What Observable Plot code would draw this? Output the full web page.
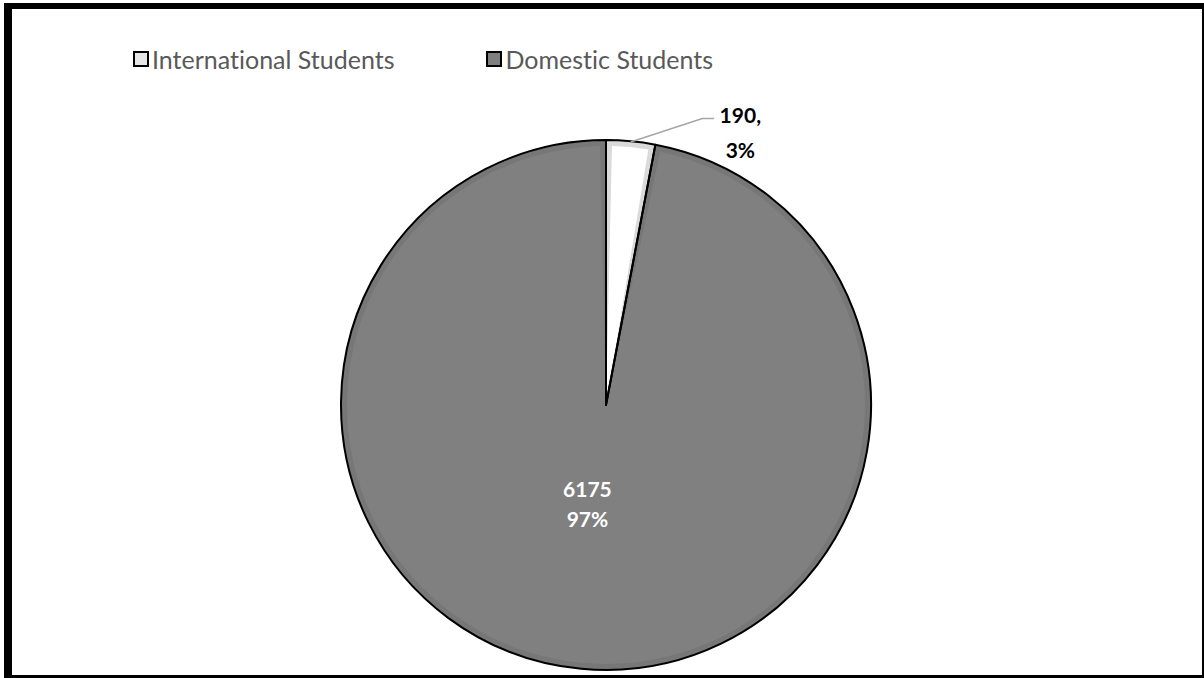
<!DOCTYPE html>
<html>
<head>
<meta charset="utf-8">
<script src="https://cdn.jsdelivr.net/npm/d3@7"></script>
<script src="https://cdn.jsdelivr.net/npm/@observablehq/plot@0.6"></script>
<style>
  html, body { margin: 0; padding: 0; background: #fff; }
  #wrap { position: relative; width: 1204px; height: 678px; overflow: hidden; font-family: Lato, "Open Sans", sans-serif; font-variant-ligatures: none; }
  #frame { position: absolute; left: 4px; top: 3px; width: 1200px; height: 675px; box-sizing: border-box;
           border-style: solid; border-color: #000; border-width: 6px 2px 3px 8px; pointer-events: none; }
  #legend { position: absolute; left: 133px; top: 44px; height: 30px; display: flex; align-items: center; font-size: 25px; line-height: 30px; color: #595959; }
  .item { display: flex; align-items: center; }
  .sw { width: 12px; height: 12px; border: 2px solid #000; margin-right: 3px; }
  svg text { font-variant-ligatures: none; }
</style>
</head>
<body>
<div id="wrap">
  <div id="chart"></div>
  <div id="legend"></div>
  <div id="frame"></div>
</div>
<script>
// ---- data ----
const categories = ["International Students", "Domestic Students"];
const counts = [190, 6175];
const sliceFills = ["#ffffff", "#808080"];
const ringFills = ["#dadada", "#777777"];
const swatchFills = ["#e6e6e6", "#7f7f7f"];

const total = d3.sum(counts);
const rows = categories.map((c, i) => ({category: c, value: counts[i], fill: sliceFills[i], ring: ringFills[i]}));
const arcs = d3.pie().sort(null).value(d => d.value)(rows);

// label geometry (unit-circle coordinates)
const intlArc = arcs[0];
const intlMid = (intlArc.startAngle + intlArc.endAngle) / 2;
const leader = [
  {x: Math.sin(intlMid), y: Math.cos(intlMid)},
  {x: 0.362, y: 1.083},
  {x: 0.404, y: 1.083}
];
const pct = v => Math.round(v / total * 100) + "%";
const labels = [
  {x: 0.505, y: 1.043, text: `${counts[0]},\n${pct(counts[0])}`, fill: "#000"},
  {x: -0.072, y: -0.366, text: `${counts[1]}\n${pct(counts[1])}`, fill: "#fff"}
];

// custom pie render mark using Plot's scales
function pieMark(index, scales) {
  const cx = scales.x(0), cy = scales.y(0), r = scales.x(1) - scales.x(0);
  const g = d3.create("svg:g").attr("transform", `translate(${cx},${cy})`);
  const outer = d3.arc().innerRadius(0).outerRadius(r);
  const ri = r - 6;
  const inner = d3.arc().innerRadius(0).outerRadius(ri).padAngle(12 / ri);
  g.selectAll("path.ring").data(arcs).join("path")
    .attr("d", outer).attr("fill", d => d.data.ring);
  g.selectAll("path.in").data(arcs).join("path")
    .attr("d", inner).attr("fill", d => d.data.fill);
  g.selectAll("path.edge").data(arcs).join("path")
    .attr("d", outer).attr("fill", "none").attr("stroke", "#000").attr("stroke-width", 2).attr("stroke-linejoin", "round");
  return g.node();
}

const R = 265, CX = 606, CY = 405, W = 1204, H = 678;
const chart = Plot.plot({
  width: W, height: H, margin: 0,
  style: {fontFamily: "Lato, 'Open Sans', sans-serif", background: "transparent"},
  x: {domain: [-CX / R, (W - CX) / R], axis: null},
  y: {domain: [-(H - CY) / R, CY / R], axis: null},
  marks: [
    pieMark,
    Plot.line(leader, {x: "x", y: "y", stroke: "#a6a6a6", strokeWidth: 1.5}),
    Plot.text(labels.slice(0, 1), {x: "x", y: "y", text: "text", fill: "fill", fontSize: 21, fontWeight: "bold", lineHeight: 1.7}),
    Plot.text(labels.slice(1), {x: "x", y: "y", text: "text", fill: "fill", fontSize: 21, fontWeight: "bold", lineHeight: 1.43})
  ]
});
document.getElementById("chart").appendChild(chart);

// legend
const legend = d3.select("#legend");
categories.forEach((c, i) => {
  const it = legend.append("div").attr("class", "item").style("margin-right", i === 0 ? "92px" : "0");
  it.append("div").attr("class", "sw").style("background", swatchFills[i]);
  it.append("span").text(c);
});
</script>
</body>
</html>
